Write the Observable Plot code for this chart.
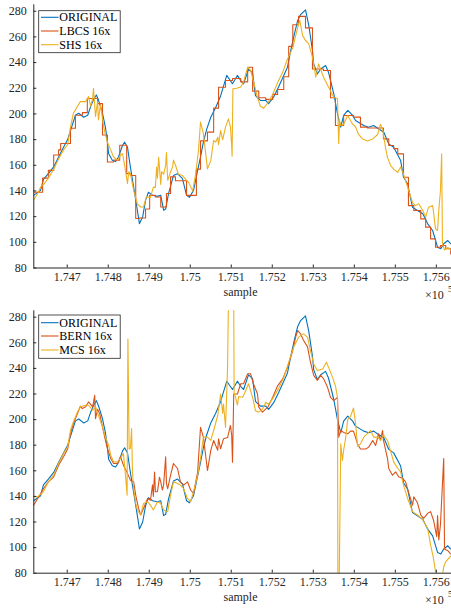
<!DOCTYPE html>
<html><head><meta charset="utf-8">
<script src="https://cdn.jsdelivr.net/npm/d3@7"></script>
<script src="https://cdn.jsdelivr.net/npm/@observablehq/plot@0.6"></script>
<style>body{margin:0;background:#fff;} svg{display:block}</style>
</head><body><div id="c"></div><script>
const xTicks = [174700,174800,174900,175000,175100,175200,175300,175400,175500,175600];
const yTicks = [80,100,120,140,160,180,200,220,240,260,280];
const xDomain = [174618.5, 175637];
const yDomain = [80, 285];
const topNames = ["ORIGINAL", "LBCS 16x", "SHS 16x"];
const botNames = ["ORIGINAL", "BERN 16x", "MCS 16x"];
const colors = ["#0072BD", "#D95319", "#EDB120"];

const original = [[174618,136.6],[174635,140.5],[174642,149],[174654,153.5],[174667,158.7],[174679,166.5],[174691,174],[174701,180],[174713,192],[174720,199],[174728,200.5],[174740,197.4],[174750,199],[174757,205.7],[174764,211],[174771,214.8],[174776,211],[174781,206],[174786,200.5],[174793,190],[174798,178],[174801,169],[174810,164],[174818,163],[174825,166.5],[174835,175.6],[174840,178],[174847,174],[174854,158.7],[174862,143],[174871,125],[174876,114.5],[174884,120],[174891,132.7],[174898,139],[174908,136.6],[174920,135.8],[174928,136.6],[174935,125],[174940,126],[174947,138],[174959,152],[174969,153.5],[174981,149.6],[174991,136.6],[174998,135],[175008,140.5],[175018,156],[175025,166.5],[175032,178],[175040,188],[175050,197.4],[175062,205],[175074,214],[175089,230],[175103,223.5],[175115,230],[175123,226],[175130,223.5],[175142,235],[175152,232],[175159,214.3],[175171,210.5],[175184,210.5],[175191,208],[175203,213],[175215,220.8],[175228,230],[175237,236.4],[175245,249.4],[175254,262.4],[175262,272.8],[175269,277.4],[175281,281],[175289,268.9],[175298,249.4],[175301,239],[175310,231.2],[175318,235],[175330,237.7],[175337,232.5],[175350,215.7],[175359,200],[175367,189.7],[175374,198.8],[175384,202.7],[175396,198.8],[175403,194.9],[175423,191],[175435,189.7],[175447,191],[175459,188.4],[175472,185.8],[175484,176.7],[175496,174],[175513,163.7],[175520,150.7],[175530,145.6],[175542,127.3],[175554,124.8],[175567,122.2],[175579,114.4],[175591,109.2],[175603,96.2],[175611,95],[175618,98.9],[175628,101.4],[175635,98.9]];

const lbcs = [[174618,139],[174640,150],[174654,156],[174667,168],[174679,172],[174684,177],[174708,188.8],[174720,199],[174737,201],[174749,212],[174774,208],[174786,183.6],[174798,162.6],[174813,164],[174828,175.6],[174845,153.5],[174854,152],[174867,118.5],[174876,119],[174891,126],[174901,136.6],[174915,135.3],[174928,127.5],[174942,138],[174952,151],[174964,148],[174991,136.6],[175015,157],[175025,179],[175042,185.8],[175057,204.5],[175069,220.8],[175086,226],[175103,227.6],[175123,225],[175140,236.4],[175152,217.8],[175167,212.6],[175184,211.3],[175201,215.2],[175213,219],[175228,229],[175240,252.6],[175250,269.5],[175264,276],[175281,267],[175298,235],[175325,233.8],[175342,212.6],[175354,191],[175374,198.8],[175398,197.5],[175415,189.7],[175432,189],[175471,180.6],[175484,175.4],[175496,173],[175506,168.9],[175520,150.7],[175532,128.6],[175545,124.8],[175562,118.3],[175574,111.8],[175586,102.7],[175598,96.2],[175610,97.5],[175623,95],[175635,91],[175637,91]];

const shs = [[174618,133],[174628,138],[174635,143],[174645,146],[174654,150],[174667,157],[174679,165],[174691,172],[174701,176],[174708,190],[174715,200.5],[174725,206],[174732,209.6],[174745,209.6],[174752,213.5],[174757,206],[174762,212],[174764,220],[174769,198],[174774,209.6],[174776,195.3],[174781,207],[174789,190],[174793,184],[174798,178],[174806,172],[174813,166.5],[174823,164],[174830,168],[174835,169],[174842,156],[174847,145.7],[174850,155],[174854,153.5],[174862,140.5],[174871,130],[174879,127.5],[174886,127.5],[174893,135.3],[174903,135],[174910,143],[174915,142.8],[174918,158.7],[174920,150],[174923,166.3],[174928,145],[174930,155],[174935,153],[174940,160],[174942,170],[174945,148.3],[174952,155],[174957,158.6],[174959,164],[174964,160],[174971,153],[174981,152],[174989,149],[174996,146.7],[175006,140],[175013,153],[175020,171.5],[175025,193.6],[175032,184.6],[175042,157.2],[175050,163.6],[175057,179.3],[175062,178],[175067,181.9],[175069,176],[175074,187],[175079,180],[175086,189.7],[175093,196.2],[175098,190],[175101,175],[175102,167],[175104,219.6],[175113,220],[175123,221],[175130,225],[175140,236.4],[175147,234],[175154,225.7],[175164,212.6],[175171,206],[175179,204.5],[175189,208.5],[175201,215.2],[175213,224.4],[175225,232.2],[175237,242.6],[175250,251.6],[175262,267.5],[175267,272.8],[175274,261],[175281,257.2],[175289,254.6],[175298,244.2],[175306,228.6],[175313,239],[175325,228.6],[175337,221],[175350,213],[175359,212],[175362,177],[175364,195],[175367,191],[175374,192],[175384,198.8],[175396,192],[175403,190],[175410,184.3],[175420,180.5],[175432,179],[175445,180.5],[175457,184],[175464,192],[175469,188],[175471,184.3],[175476,174],[175481,166],[175489,159.6],[175496,157],[175506,154.5],[175513,158.6],[175520,153],[175530,143],[175542,131],[175549,128.6],[175557,130],[175567,124.8],[175574,119.6],[175581,127.4],[175591,128.6],[175593,124],[175598,110.5],[175603,109.2],[175606,125],[175610,140],[175613,168.9],[175615,98.9],[175620,94],[175628,96],[175635,94]];

const bern = [[174618,133.2],[174628,138.4],[174642,146],[174654,151.4],[174667,155.3],[174679,164.4],[174691,171],[174701,177],[174708,189],[174715,197],[174725,204.7],[174732,210.4],[174737,208.6],[174745,210],[174752,213.8],[174762,210],[174767,219],[174769,200.8],[174774,208],[174779,204.7],[174786,194.3],[174793,184],[174798,177.4],[174806,169.6],[174813,165.7],[174823,165.7],[174830,171],[174837,164.4],[174847,158],[174854,152.7],[174862,151.4],[174867,141],[174874,130.6],[174879,125.5],[174886,130.6],[174896,138.4],[174903,137],[174908,149],[174910,140],[174913,159],[174915,143.6],[174920,143.6],[174925,155],[174928,151.4],[174932,145],[174935,148.8],[174940,171],[174942,150],[174945,146],[174952,156.6],[174959,165.7],[174969,161.8],[174976,151.4],[174984,148.8],[174993,151.4],[175001,145],[175008,142.3],[175018,159],[175025,194],[175032,186.3],[175042,160.2],[175050,175.9],[175057,183.7],[175067,176],[175069,185],[175074,177.2],[175081,185],[175091,186],[175098,195.4],[175101,188],[175103,166.7],[175106,220],[175115,220],[175123,228],[175130,228],[175140,235.8],[175147,235.8],[175154,228],[175164,220],[175167,209.7],[175176,205.8],[175189,209.7],[175201,217.4],[175213,226.4],[175225,231.6],[175237,240.7],[175250,254],[175257,264.4],[175262,269.6],[175269,267],[175276,262],[175286,256.8],[175293,245],[175301,234.6],[175310,230.7],[175318,234.6],[175325,232],[175335,225],[175342,217.4],[175350,214.8],[175359,217.4],[175362,186.3],[175367,191.5],[175374,190],[175384,188.9],[175391,191],[175398,191],[175408,181],[175415,177],[175428,177],[175435,178.5],[175445,183.7],[175452,179.8],[175459,188.9],[175464,183.7],[175469,191.5],[175471,184],[175481,169.6],[175484,161.8],[175493,156.6],[175501,159.2],[175508,155.3],[175518,154],[175525,151.4],[175532,143.6],[175542,133.2],[175545,139.7],[175554,135],[175562,125.5],[175569,122.9],[175579,126.8],[175586,128.1],[175593,121.6],[175601,108.6],[175603,125],[175606,106],[175610,117.7],[175618,169.6],[175620,98.9],[175628,97.6],[175635,95]];

const mcs = [[174618,139.7],[174628,139.7],[174642,143.6],[174654,151.4],[174667,156.6],[174679,165.7],[174691,173.5],[174701,178.7],[174708,191.7],[174715,198.2],[174725,206],[174732,210],[174745,211.2],[174752,211.2],[174762,207.3],[174769,210],[174776,203.4],[174786,194.3],[174793,186.5],[174801,180],[174806,172.2],[174813,167],[174823,167],[174830,169.6],[174837,173.5],[174842,156.6],[174846,141],[174848,263],[174851,177],[174854,177.4],[174857,193],[174859,160],[174862,146],[174867,134.5],[174871,129.4],[174879,125.5],[174886,134.5],[174896,135.8],[174903,133.2],[174910,129.4],[174920,135.8],[174928,134.5],[174935,129.4],[174945,128],[174952,141],[174959,151.4],[174969,150],[174976,148.8],[174984,146],[174993,138.4],[175001,136],[175008,143.6],[175018,156.6],[175025,169.6],[175032,186.3],[175042,186.3],[175050,183.7],[175057,191.5],[175067,203.2],[175074,220],[175079,205],[175081,212.2],[175086,194],[175091,241],[175093,290],[175106,290],[175107,220],[175110,218],[175115,211.4],[175118,218],[175128,217.4],[175135,222.6],[175142,228],[175152,217.4],[175159,207],[175167,205.8],[175176,208],[175184,213.5],[175191,212],[175203,217.4],[175215,224],[175228,233],[175240,244.7],[175252,256.6],[175264,264.4],[175276,267],[175286,264.4],[175293,253.9],[175301,243.5],[175310,238.3],[175323,239.6],[175332,244.8],[175337,241],[175347,233],[175354,226.4],[175359,217.4],[175360,70],[175363,70],[175367,181],[175371,168],[175374,176],[175379,186],[175384,200],[175391,202.6],[175398,209],[175403,197.5],[175408,179.2],[175415,181],[175423,186.3],[175432,189],[175440,191.5],[175447,186.3],[175457,186.3],[175464,183.7],[175471,188],[175481,183.7],[175489,174.8],[175496,167],[175506,161.8],[175513,159.2],[175520,148.8],[175530,138.4],[175542,128.1],[175554,125.5],[175567,121.6],[175579,115],[175586,102.1],[175593,91.7],[175598,81.3],[175603,77],[175610,76],[175615,78],[175618,85],[175623,89],[175635,93.3]];

const W = 451, ML = 33.3;
const AX = "#262626";
const FONT = "'Liberation Serif', 'Times New Roman', serif";
const fmt = d => String(parseFloat((d / 1e5).toFixed(3)));

function addText(g, x, y, txt, size, anchor, fill) {
  return g.append("text").attr("x", x).attr("y", y).attr("text-anchor", anchor)
    .attr("fill", fill).attr("stroke", "none")
    .style("font-family", FONT).style("font-size", size + "px").text(txt);
}

function panel(series, names, H, mt, mb, leg) {
  const innerW = W - ML, innerH = H - mt - mb;
  const svg = Plot.plot({
    width: W, height: H, marginLeft: ML, marginRight: 0, marginTop: mt, marginBottom: mb,
    style: {fontFamily: FONT, fontSize: "12px", color: AX, background: "white"},
    x: {domain: xDomain, ticks: xTicks, tickSize: 0, tickPadding: 4, tickFormat: fmt, label: null},
    y: {domain: yDomain, ticks: yTicks, tickSize: 0, tickPadding: 7, label: null},
    marks: [
      ...series.map((s, i) => Plot.line(s.data, {x: d => d[0], y: d => d[1], stroke: colors[i], strokeWidth: 1.1, clip: true, curve: s.curve || "linear"})),
      Plot.ruleY([yDomain[0]], {stroke: AX}),
      Plot.ruleX([xDomain[0]], {stroke: AX}),
      Plot.ruleX(xTicks, {stroke: AX, insetTop: innerH - 3}),
      Plot.ruleY(yTicks, {stroke: AX, insetRight: innerW - 3})
    ]
  });
  const g = d3.select(svg).append("g");
  const axisY = H - mb;
  addText(g, 240.5, axisY + 28, "sample", 12, "middle", AX);
  addText(g, 425, axisY + 31, "\u00d710", 12, "start", AX);
  addText(g, 448, axisY + 24, "5", 9, "start", AX);
  // legend
  g.append("rect").attr("x", 38.7).attr("y", leg.y).attr("width", 81.5).attr("height", leg.h)
    .attr("fill", "white").attr("stroke", AX).attr("stroke-width", 0.8);
  names.forEach((n, i) => {
    const ry = leg.rows[i];
    g.append("line").attr("x1", 41).attr("x2", 58.5).attr("y1", ry).attr("y2", ry)
      .attr("stroke", colors[i]).attr("stroke-width", 1.1);
    addText(g, 59.3, ry, n, 12, "start", "#000").attr("dy", "0.33em");
  });
  return svg;
}

const c = document.getElementById("c");
c.appendChild(panel([{data: original}, {data: lbcs, curve: "step-after"}, {data: shs}], topNames, 302, 4.3, 34.5,
  {y: 10.7, h: 42, rows: [17.3, 31, 44.7]}));
c.appendChild(panel([{data: original}, {data: bern}, {data: mcs}], botNames, 306, 8.3, 35.3,
  {y: 13, h: 43.3, rows: [20.7, 34, 48]}));
</script></body></html>
